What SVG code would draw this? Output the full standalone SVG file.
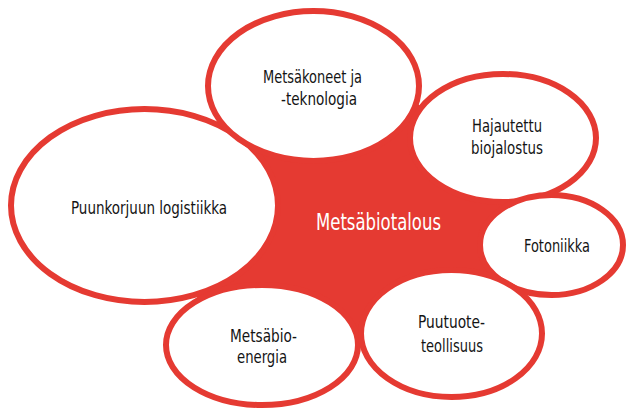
<svg xmlns="http://www.w3.org/2000/svg" width="626" height="409" viewBox="0 0 626 409">
<style>
.bg{fill:#ffffff}
.blob{fill:#e53a32}
.node ellipse{fill:#ffffff;stroke:#e53a32;stroke-width:6}
.lbl{font-family:"Liberation Sans Narrow","DejaVu Sans Condensed","Liberation Sans",sans-serif;font-stretch:condensed;font-size:18px;fill:#141414}
.ctr{font-family:"Liberation Sans Narrow","DejaVu Sans Condensed","Liberation Sans",sans-serif;font-stretch:condensed;font-size:23.5px;fill:#ffffff}
</style>
<rect class="bg" x="0" y="0" width="626" height="409"/>
<g id="center">
<polygon class="blob" points="213,124 300,130 418,104 470,150 535,197 520,245 527,294 440,310 358,342 270,320 197,298 230,210"/>
<text class="ctr" x="316" y="230" textLength="125" lengthAdjust="spacingAndGlyphs">Metsäbiotalous</text>
</g>
<g id="connectors"></g>
<g id="puunkorjuu" class="node">
<ellipse cx="144.5" cy="205.5" rx="133.5" ry="96.5"/>
<text class="lbl" x="71" y="214" textLength="156" lengthAdjust="spacingAndGlyphs">Puunkorjuun logistiikka</text>
</g>
<g id="metsakoneet" class="node">
<ellipse cx="313.5" cy="86" rx="105.5" ry="75"/>
<text class="lbl" x="263" y="83" textLength="99" lengthAdjust="spacingAndGlyphs">Metsäkoneet ja</text>
<text class="lbl" x="281" y="105" textLength="76" lengthAdjust="spacingAndGlyphs">-teknologia</text>
</g>
<g id="hajautettu" class="node">
<ellipse cx="503" cy="138" rx="93" ry="64"/>
<text class="lbl" x="472" y="132" textLength="70" lengthAdjust="spacingAndGlyphs">Hajautettu</text>
<text class="lbl" x="471" y="154" textLength="72" lengthAdjust="spacingAndGlyphs">biojalostus</text>
</g>
<g id="fotoniikka" class="node">
<ellipse cx="551.5" cy="245" rx="71.5" ry="50"/>
<text class="lbl" x="524" y="252" textLength="66" lengthAdjust="spacingAndGlyphs">Fotoniikka</text>
</g>
<g id="metsabioenergia" class="node">
<ellipse cx="262" cy="345" rx="96" ry="60"/>
<text class="lbl" x="230" y="342" textLength="67" lengthAdjust="spacingAndGlyphs">Metsäbio-</text>
<text class="lbl" x="237" y="363" textLength="50" lengthAdjust="spacingAndGlyphs">energia</text>
</g>
<g id="puutuote" class="node">
<ellipse cx="451.5" cy="333.5" rx="90.5" ry="63.5"/>
<text class="lbl" x="418" y="328" textLength="67" lengthAdjust="spacingAndGlyphs">Puutuote-</text>
<text class="lbl" x="421" y="352" textLength="62" lengthAdjust="spacingAndGlyphs">teollisuus</text>
</g>
</svg>
